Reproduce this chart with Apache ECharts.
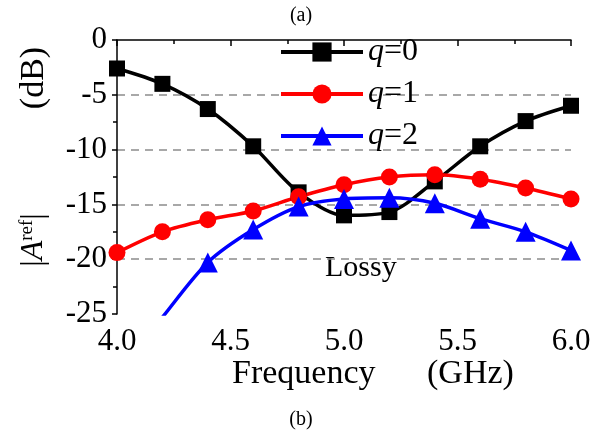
<!DOCTYPE html>
<html>
<head>
<meta charset="utf-8">
<script src="https://cdn.jsdelivr.net/npm/echarts@6/dist/echarts.min.js"></script>
<style>
  html, body { margin: 0; padding: 0; background: #fff; }
  #chart { width: 594px; height: 439px; }
</style>
</head>
<body>
<div id="chart"></div>
<script>
const freqs = [4.0, 4.2, 4.4, 4.6, 4.8, 5.0, 5.2, 5.4, 5.6, 5.8, 6.0];
const q0 = [-2.6, -4.0, -6.3, -9.7, -13.9, -16.0, -15.7, -12.9, -9.7, -7.4, -6.0];
const q1 = [-19.4, -17.5, -16.4, -15.6, -14.3, -13.2, -12.5, -12.3, -12.7, -13.5, -14.5];
const q2 = [-30.5, -25.3, -20.3, -17.3, -15.2, -14.5, -14.4, -14.9, -16.3, -17.5, -19.2];
const seriesNames = ["q=0", "q=1", "q=2"];
const yTicks = [0, -5, -10, -15, -20, -25];

const serif = "'Liberation Serif', 'DejaVu Serif', serif";

function pairs(ys) {
    return freqs.map((f, i) => [f, ys[i]]);
}

const chart = echarts.init(document.getElementById("chart"));

function makeSeries(name, ys, color, symbol, size) {
    return {
        name: name,
        type: "line",
        data: pairs(ys),
        smooth: 0.3,
        symbol: symbol,
        symbolSize: size,
        clip: true,
        lineStyle: { color: color, width: 3.5 },
        itemStyle: { color: color },
        emphasis: { disabled: true },
    };
}

chart.setOption({
    animation: false,
    backgroundColor: "#fff",
    grid: { left: 117, right: 23, top: 40, bottom: 125 },
    legend: {
        orient: "vertical",
        left: 279,
        top: 36,
        padding: 0,
        itemWidth: 82,
        itemHeight: 24,
        itemGap: 10,
        data: seriesNames,
        lineStyle: { width: 4 },
        formatter: (name) => "{i|q}{n|" + name.slice(1) + "}",
        textStyle: {
            color: "#000",
            fontFamily: serif,
            fontSize: 32,
            rich: {
                i: { fontFamily: serif, fontSize: 32, fontStyle: "italic", color: "#000" },
                n: { fontFamily: serif, fontSize: 32, color: "#000" },
            },
        },
    },
    xAxis: {
        type: "value",
        min: 4,
        max: 6,
        interval: 0.5,
        axisLine: { lineStyle: { color: "#000", width: 1.5 } },
        axisTick: { show: true, length: 6, inside: false, lineStyle: { color: "#000", width: 1.5 } },
        minorTick: { show: true, splitNumber: 2, length: 4, lineStyle: { color: "#000", width: 1.5 } },
        splitLine: { show: false },
        axisLabel: {
            color: "#000",
            fontFamily: serif,
            fontSize: 31,
            margin: 12,
            formatter: (v) => v.toFixed(1),
        },
    },
    yAxis: {
        type: "value",
        min: -25,
        max: 0,
        interval: 5,
        axisLine: { show: true, lineStyle: { color: "#000", width: 1.5 } },
        axisTick: { show: true, length: 5, inside: false, lineStyle: { color: "#000", width: 1.5 } },
        minorTick: { show: true, splitNumber: 2, length: 4, lineStyle: { color: "#000", width: 1.5 } },
        splitLine: {
            show: true,
            showMinLine: false,
            showMaxLine: false,
            lineStyle: { color: "#8c8c8c", width: 1.5, type: [8, 6] },
        },
        axisLabel: {
            color: "#000",
            fontFamily: serif,
            fontSize: 31,
            margin: 10,
            formatter: (v) => (yTicks.includes(v) ? String(v) : ""),
        },
    },
    series: [
        makeSeries(seriesNames[0], q0, "#000000", "rect", 16),
        makeSeries(seriesNames[1], q1, "#ff0000", "circle", 17),
        makeSeries(seriesNames[2], q2, "#0000ff", "triangle", 20),
    ],
    graphic: [
        {
            type: "text", x: 301, y: 16,
            style: { text: "(a)", font: "20px " + serif, fill: "#000", align: "center", verticalAlign: "middle" },
        },
        {
            type: "text", x: 301, y: 420,
            style: { text: "(b)", font: "20px " + serif, fill: "#000", align: "center", verticalAlign: "middle" },
        },
        {
            type: "text", x: 232, y: 374,
            style: { text: "Frequency", font: "34px " + serif, fill: "#000", align: "left", verticalAlign: "middle" },
        },
        {
            type: "text", x: 427, y: 374,
            style: { text: "(GHz)", font: "34px " + serif, fill: "#000", align: "left", verticalAlign: "middle" },
        },
        {
            type: "text", x: 325, y: 268,
            style: { text: "Lossy", font: "30px " + serif, fill: "#000", align: "left", verticalAlign: "middle" },
        },
        {
            type: "text", x: 34, y: 78, rotation: Math.PI / 2,
            style: { text: "(dB)", font: "34px " + serif, fill: "#000", align: "center", verticalAlign: "middle" },
        },
        {
            type: "text", x: 34, y: 240, rotation: Math.PI / 2,
            style: {
                text: "{b||}{a|A}{s|ref}{b||}",
                align: "center",
                verticalAlign: "middle",
                rich: {
                    b: { fontFamily: serif, fontSize: 32, fill: "#000" },
                    a: { fontFamily: serif, fontSize: 32, fontStyle: "italic", fill: "#000" },
                    s: { fontFamily: serif, fontSize: 19, fill: "#000", verticalAlign: "top" },
                },
            },
        },
    ],
});
</script>
</body>
</html>
